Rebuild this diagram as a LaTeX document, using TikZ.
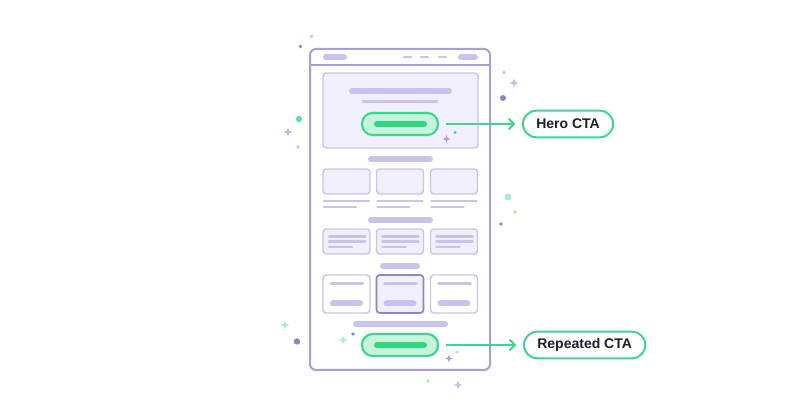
\documentclass[tikz,border=0pt]{standalone}
\usepackage{fontspec}
\setmainfont{Liberation Sans}
\usetikzlibrary{arrows.meta,positioning}
\definecolor{Lilac}{HTML}{A99FD8}
\definecolor{LilacDeep}{HTML}{8E84C6}
\definecolor{LilacLine}{HTML}{C9C2EC}
\definecolor{LilacLight}{HTML}{F1EFFB}
\definecolor{MintDark}{HTML}{3DD68C}
\definecolor{MintFill}{HTML}{C6F4DA}
\definecolor{MintBar}{HTML}{2FD67F}
\definecolor{MintSoft}{HTML}{A8EDC9}
\definecolor{InkDark}{HTML}{1E1E2A}

\begin{document}
\begin{tikzpicture}[
        x=0.75pt, y=-0.75pt,
        frame/.style={draw=Lilac, line width=1.5pt, rounded corners=4.5pt},
        card/.style={draw=LilacLine, fill=LilacLight, line width=1.1pt, rounded corners=2.5pt},
        bar/.style={LilacLine, line width=4.5pt, line cap=round},
        thin/.style={LilacLine, line width=2.2pt, line cap=round},
        btn/.style={draw=MintDark, fill=MintFill, line width=1.6pt, rounded corners=8pt,
                    minimum width=57pt, minimum height=16.5pt, inner sep=0pt},
        tag/.style={draw=MintDark, fill=white, line width=1.5pt, rounded corners=10pt,
                    font=\fontsize{10.5}{12}\selectfont\bfseries, text=InkDark,
                    inner xsep=10pt, minimum height=20pt},
        e/.style={-{Straight Barb[length=4pt, width=8pt, line width=1.5pt]}, MintDark, line width=1.5pt},
        spark/.pic={\fill (0,-5) .. controls (0.9,-0.9) .. (5,0) .. controls (0.9,0.9) .. (0,5)
                    .. controls (-0.9,0.9) .. (-5,0) .. controls (-0.9,-0.9) .. (0,-5) -- cycle;}
      ]
        \useasboundingbox (0,0) rectangle (800,420);

        % phone frame and header
        \draw[frame, fill=white] (310,49) rectangle (490,370);
        \draw[Lilac, line width=1.2pt] (310,65) -- (490,65);
        \draw[bar] (326,57) -- (344,57);
        \draw[bar] (461,57) -- (475,57);
        \draw[thin] (404,57) -- (411,57);
        \draw[thin] (421,57) -- (428,57);
        \draw[thin] (439,57) -- (446,57);

        % hero
        \draw[card] (323,73) rectangle (478,148);
        \draw[bar] (352,91) -- (449,91);
        \draw[thin] (363,101.5) -- (437,101.5);
        \node[btn] (heroBtn) at (400,124) {};
        \draw[MintBar, line width=4.5pt, line cap=round] (377,124) -- (424,124);

        % image cards
        \draw[bar] (371,159.5) -- (430,159.5);
        \foreach \cx in {323,376.5,430.5} {
          \draw[card] (\cx,169) rectangle ++(47,25);
          \draw[thin] (\cx+1,201) -- ++(45,0);
          \draw[thin] (\cx+1,207) -- ++(32,0);
        }

        % text cards
        \draw[bar] (371,220) -- (430,220);
        \foreach \cx in {323,376.5,430.5} {
          \draw[card] (\cx,229) rectangle ++(47,25);
          \draw[thin] (\cx+6,236.5) -- ++(36,0);
          \draw[thin] (\cx+6,241.5) -- ++(36,0);
          \draw[thin] (\cx+6,247) -- ++(23,0);
        }

        % pricing cards
        \draw[bar] (383,266) -- (417,266);
        \foreach \cx in {323,430.5} {
          \draw[card, fill=white] (\cx,275) rectangle ++(47,38);
        }
        \draw[card, draw=LilacDeep, line width=1.3pt] (376.5,275) rectangle ++(47,38);
        \foreach \cx in {323,376.5,430.5} {
          \draw[thin] (\cx+8,283.5) -- ++(32,0);
          \draw[bar] (\cx+10,303.5) -- ++(27,0);
        }

        % closing cta
        \draw[bar] (356,324) -- (445,324);
        \node[btn] (repBtn) at (400,345) {};
        \draw[MintBar, line width=4.5pt, line cap=round] (377,345) -- (424,345);

        % callouts
        \node[tag, anchor=west] (heroTag) at (522,124) {Hero CTA};
        \node[tag, anchor=west] (repTag)  at (523,345) {Repeated CTA};
        \draw[e] ([xshift=5pt]heroBtn.east) -- ([xshift=-5pt]heroBtn.east -| heroTag.west);
        \draw[e] ([xshift=5pt]repBtn.east)  -- ([xshift=-5pt]repBtn.east -| repTag.west);

        % sparkles and dots
        \pic[Lilac, scale=0.9] at (446.5,139) {spark};
        \fill[MintDark] (455,132.5) circle (1.6);
        \pic[Lilac!80] at (288,132) {spark};
        \pic[Lilac, scale=0.8] at (449,358.5) {spark};
        \pic[MintSoft] at (343,340) {spark};
        \pic[MintSoft] at (285,325) {spark};
        \pic[Lilac!70] at (514,83) {spark};
        \pic[LilacLine] at (458,385) {spark};
        \fill[MintSoft] (311.5,36.5) circle (2);
        \fill[LilacDeep] (300.5,46.5) circle (1.8);
        \fill[MintDark!80] (299,119) circle (3.2);
        \fill[LilacLine] (298,147) circle (1.8);
        \fill[LilacDeep] (297,341.5) circle (3.2);
        \fill[LilacDeep] (353,334) circle (1.8);
        \fill[MintSoft] (457,352) circle (1.8);
        \fill[MintSoft] (428,381) circle (1.8);
        \fill[LilacLine] (504,72.5) circle (1.8);
        \fill[LilacDeep] (503,98) circle (3);
        \fill[MintSoft] (508,197) circle (3.5);
        \fill[LilacLine] (515,212) circle (1.8);
        \fill[LilacDeep] (501,224) circle (1.8);
      \end{tikzpicture}
\end{document}
